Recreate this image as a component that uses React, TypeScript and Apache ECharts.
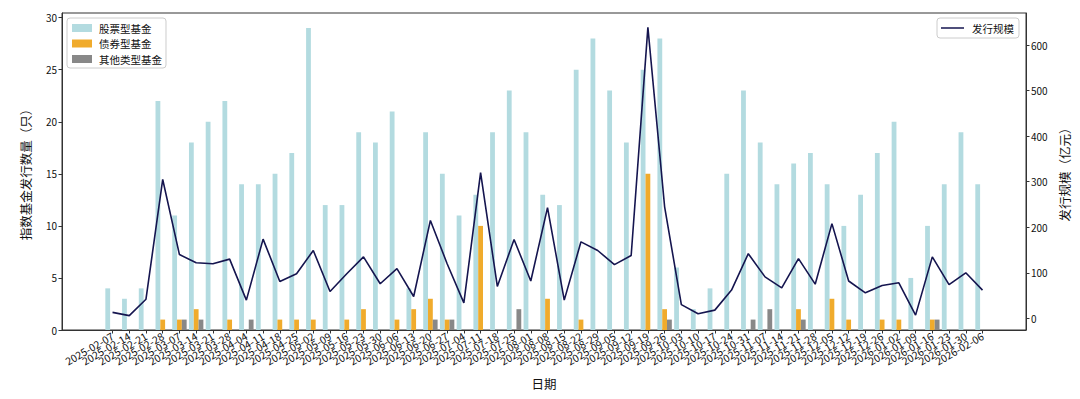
import React, { useEffect, useRef } from "react";
import * as echarts from "echarts";

const dates = [
  "2025-02-07","2025-02-14","2025-02-21","2025-02-28","2025-03-07","2025-03-14","2025-03-21","2025-03-28",
  "2025-04-04","2025-04-11","2025-04-18","2025-04-25","2025-05-02","2025-05-09","2025-05-16","2025-05-23",
  "2025-05-30","2025-06-06","2025-06-13","2025-06-20","2025-06-27","2025-07-04","2025-07-11","2025-07-18",
  "2025-07-25","2025-08-01","2025-08-08","2025-08-15","2025-08-22","2025-08-29","2025-09-05","2025-09-12",
  "2025-09-19","2025-09-26","2025-10-03","2025-10-10","2025-10-17","2025-10-24","2025-10-31","2025-11-07",
  "2025-11-14","2025-11-21","2025-11-28","2025-12-05","2025-12-12","2025-12-19","2025-12-26","2026-01-02",
  "2026-01-09","2026-01-16","2026-01-23","2026-01-30","2026-02-06",
];

const equityFunds = [
  4, 3, 4, 22, 11, 18, 20, 22, 14, 14, 15, 17, 29, 12, 12, 19, 18, 21, 4, 19, 15, 11, 13, 19, 23, 19, 13,
  12, 25, 28, 23, 18, 25, 28, 6, 2, 4, 15, 23, 18, 14, 16, 17, 14, 10, 13, 17, 20, 5, 10, 14, 19, 14,
];

const bondFunds = [
  0, 0, 0, 1, 1, 2, 0, 1, 0, 0, 1, 1, 1, 0, 1, 2, 0, 1, 2, 3, 1, 0, 10, 0, 0, 0, 3,
  0, 1, 0, 0, 0, 15, 2, 0, 0, 0, 0, 0, 0, 0, 2, 0, 3, 1, 0, 1, 1, 0, 1, 0, 0, 0,
];

const otherFunds = [
  0, 0, 0, 0, 1, 1, 0, 0, 1, 0, 0, 0, 0, 0, 0, 0, 0, 0, 0, 1, 1, 0, 0, 0, 2, 0, 0,
  0, 0, 0, 0, 0, 0, 1, 0, 0, 0, 0, 1, 2, 0, 1, 0, 0, 0, 0, 0, 0, 0, 1, 0, 0, 0,
];

const issueScale = [
  13, 6, 42, 305, 140, 122, 120, 130, 40, 174, 81, 98, 149, 59, 98, 135, 76, 109, 48, 215, 120, 34, 320, 70,
  173, 82, 243, 40, 168, 149, 118, 138, 639, 245, 30, 10, 18, 62, 142, 91, 67, 131, 75, 208, 82, 56, 72, 78,
  7, 135, 74, 100, 62,
];

const leftTicks = [0, 5, 10, 15, 20, 25, 30];
const rightTicks = [0, 100, 200, 300, 400, 500, 600];

const FONT = "'Noto Sans CJK SC', 'DejaVu Sans', sans-serif";
const X_MIN = -3.02;
const X_MAX = 54.6;

export default function App() {
  const ref = useRef<HTMLDivElement>(null);

  useEffect(() => {
    if (!ref.current) return;
    const chart = echarts.init(ref.current, null, { renderer: "svg" });
    const idx = dates.map((_, i) => i);
    const labelValues = [X_MIN, ...idx, X_MAX];
    const pair = (arr: number[]) => arr.map((v, i) => [i, v]);
    const axisLine = { show: true, onZero: false, lineStyle: { color: "#333", width: 1 } };
    const tickStyle = { lineStyle: { color: "#333", width: 1 }, length: 3.5, inside: false };

    chart.setOption({
      animation: false,
      textStyle: { fontFamily: FONT },
      grid: {
        left: 62,
        right: 54,
        top: 13,
        bottom: 69,
        show: true,
        borderColor: "#333",
        borderWidth: 1,
        backgroundColor: "transparent",
      },
      legend: [
        {
          data: ["股票型基金", "债券型基金", "其他类型基金"],
          orient: "vertical",
          left: 67,
          top: 18,
          padding: [4, 4, 3, 5],
          itemWidth: 20,
          itemHeight: 8,
          itemGap: 3.5,
          icon: "rect",
          backgroundColor: "rgba(255,255,255,0.85)",
          borderColor: "#cccccc",
          borderWidth: 1,
          borderRadius: 3,
          textStyle: { fontSize: 10.5, lineHeight: 12, color: "#111", fontFamily: FONT, padding: [0, 0, 0, 2] },
        },
        {
          data: ["发行规模"],
          orient: "vertical",
          right: 61,
          top: 18,
          padding: [4, 5, 4, 4],
          itemWidth: 23,
          itemHeight: 12,
          icon: "path://M0,5.25 L23,5.25 L23,6.75 L0,6.75 Z",
          backgroundColor: "rgba(255,255,255,0.85)",
          borderColor: "#cccccc",
          borderWidth: 1,
          borderRadius: 3,
          textStyle: { fontSize: 10.5, lineHeight: 12, color: "#111", fontFamily: FONT, padding: [0, 0, 0, 3] },
        },
      ],
      xAxis: {
        type: "value",
        min: X_MIN,
        max: X_MAX,
        name: "日期",
        nameLocation: "middle",
        nameGap: 47,
        nameTextStyle: { fontSize: 12.5, color: "#111", fontFamily: FONT },
        axisLine,
        axisTick: { ...tickStyle, customValues: idx },
        axisLabel: {
          customValues: labelValues,
          formatter: (v: number) => {
            const i = Math.round(v);
            return Math.abs(v - i) < 1e-6 && dates[i] ? dates[i] : "";
          },
          rotate: 30,
          fontSize: 10.5,
          margin: 5,
          color: "#111",
          fontFamily: FONT,
          showMinLabel: true,
          showMaxLabel: true,
          hideOverlap: false,
        },
        splitLine: { show: false },
      },
      yAxis: [
        {
          type: "value",
          min: 0,
          max: 30.45,
          position: "left",
          name: "指数基金发行数量（只）",
          nameLocation: "middle",
          nameRotate: 90,
          nameGap: 30,
          nameTextStyle: { fontSize: 12.5, color: "#111", fontFamily: FONT },
          axisLine,
          axisTick: { ...tickStyle, customValues: leftTicks },
          axisLabel: { customValues: leftTicks, fontSize: 10, margin: 5, color: "#111", fontFamily: FONT },
          splitLine: { show: false },
        },
        {
          type: "value",
          min: -25.65,
          max: 670.65,
          position: "right",
          name: "发行规模（亿元）",
          nameLocation: "middle",
          nameRotate: 90,
          nameGap: 22,
          nameTextStyle: { fontSize: 12.5, color: "#111", fontFamily: FONT },
          axisLine,
          axisTick: { ...tickStyle, customValues: rightTicks },
          axisLabel: { customValues: rightTicks, fontSize: 10, margin: 5, color: "#111", fontFamily: FONT },
          splitLine: { show: false },
        },
      ],
      series: [
        {
          name: "股票型基金",
          type: "bar",
          yAxisIndex: 0,
          data: pair(equityFunds),
          barWidth: 4.8,
          barGap: "0%",
          itemStyle: { color: "#b3dbe0" },
        },
        {
          name: "债券型基金",
          type: "bar",
          yAxisIndex: 0,
          data: pair(bondFunds),
          barWidth: 4.8,
          barGap: "0%",
          itemStyle: { color: "#f0ab2c" },
        },
        {
          name: "其他类型基金",
          type: "bar",
          yAxisIndex: 0,
          data: pair(otherFunds),
          barWidth: 4.8,
          barGap: "0%",
          itemStyle: { color: "#888888" },
        },
        {
          name: "发行规模",
          type: "line",
          yAxisIndex: 1,
          data: pair(issueScale),
          symbol: "none",
          lineStyle: { color: "#15154f", width: 1.6 },
          itemStyle: { color: "#15154f" },
          z: 5,
        },
      ],
    });
    return () => chart.dispose();
  }, []);

  return <div ref={ref} style={{ width: 1080, height: 399, position: "absolute", left: 0, top: 0 }} />;
}
